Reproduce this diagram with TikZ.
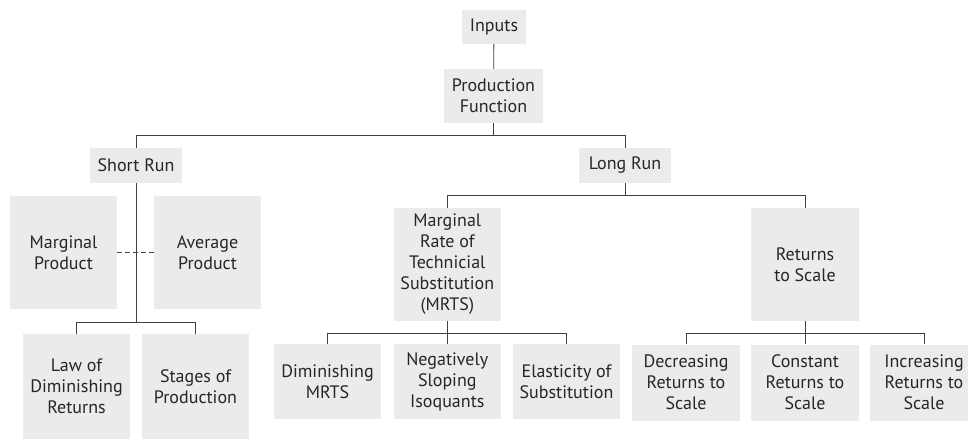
\documentclass[tikz,border=0pt]{standalone}
\usepackage{fontspec}
\setmainfont{PT Sans}

\begin{document}
\begin{tikzpicture}[x=1pt,y=-1pt,
  cell/.style={fill=black!8,text=black!85,align=center,inner sep=0pt,
    font=\fontsize{18}{21}\selectfont},
  link/.style={draw=black!75,line width=0.8pt}]
  \clip (0,0) rectangle (968,440);
  % top of the tree
  \node[cell,minimum width=64,minimum height=34] (in) at (494,27) {Inputs};
  \node[cell,minimum width=99,minimum height=54] (pf) at (493.5,96) {Production\\Function};
  \node[cell,minimum width=92,minimum height=35] (sr) at (136,165.5) {Short Run};
  \node[cell,minimum width=92,minimum height=35] (lr) at (625,165.5) {Long Run};
  % short run side
  \node[cell,minimum width=107,minimum height=113] (mp) at (63.5,252.5) {Marginal\\Product};
  \node[cell,minimum width=107,minimum height=113] (ap) at (207.5,252.5) {Average\\Product};
  \node[cell,minimum width=107,minimum height=105] (law) at (76.5,386.5) {Law of\\Diminishing\\Returns};
  \node[cell,minimum width=107,minimum height=105] (stg) at (195.5,386.5) {Stages of\\Production};
  % long run side
  \node[cell,minimum width=107,minimum height=113] (mrts) at (447.3,264.5) {Marginal\\Rate of\\Technicial\\Substitution\\(MRTS)};
  \node[cell,minimum width=108,minimum height=113] (rts) at (805,264.5) {Returns\\to Scale};
  \node[cell,minimum width=107,minimum height=75] (dm) at (327.5,381.5) {Diminishing\\MRTS};
  \node[cell,minimum width=107,minimum height=75] (nsi) at (447.3,381.5) {Negatively\\Sloping\\Isoquants};
  \node[cell,minimum width=107,minimum height=75] (eos) at (566.5,381.5) {Elasticity of\\Substitution};
  \node[cell,minimum width=108,minimum height=76] (drs) at (686,382.5) {Decreasing\\Returns to\\Scale};
  \node[cell,minimum width=108,minimum height=76] (crs) at (805,382.5) {Constant\\Returns to\\Scale};
  \node[cell,minimum width=108,minimum height=76] (irs) at (924,382.5) {Increasing\\Returns to\\Scale};

  \coordinate (topbar) at (0,135);
  \coordinate (srbar) at (0,322);
  \coordinate (lrbar) at (0,195);
  \coordinate (subbar) at (0,333);

  \draw[link] (in) -- (pf);
  \draw[link] (pf.south) -- (pf.south |- topbar);
  \draw[link] (sr.north) |- (lr.north |- topbar) -- (lr.north);

  \draw[link] (sr.south) -- (sr.south |- srbar);
  \draw[link] (law.north) |- (stg.north |- srbar) -- (stg.north);
  \draw[link,dash pattern=on 5pt off 3pt] (mp.east) -- (ap.west);

  \draw[link] (lr.south) -- (lr.south |- lrbar);
  \draw[link] (mrts.north) |- (rts.north |- lrbar) -- (rts.north);
  \draw[link] (mrts) -- (nsi);
  \draw[link] (dm.north) |- (eos.north |- subbar) -- (eos.north);
  \draw[link] (rts) -- (crs);
  \draw[link] (drs.north) |- (irs.north |- subbar) -- (irs.north);
\end{tikzpicture}
\end{document}
